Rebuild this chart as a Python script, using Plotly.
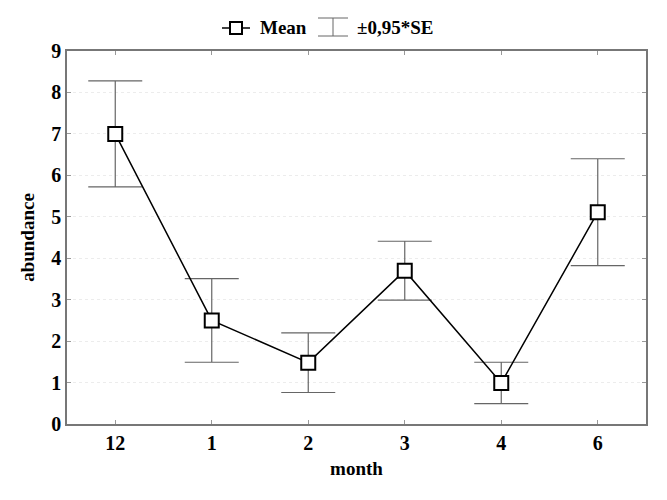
import plotly.graph_objects as go

months = ["12", "1", "2", "3", "4", "6"]
mean = [7.0, 2.5, 1.48, 3.7, 0.99, 5.11]
se95 = [1.28, 1.01, 0.72, 0.71, 0.5, 1.29]

font_serif = "Liberation Serif, Times New Roman, serif"

fig = go.Figure()
fig.add_trace(go.Scatter(
    x=months, y=mean, mode="lines+markers", name="Mean",
    line=dict(color="black", width=1.5),
    marker=dict(symbol="square", size=14, color="white",
                line=dict(color="black", width=2)),
    error_y=dict(type="data", array=se95, visible=True,
                 color="#666666", thickness=1.2, width=27),
    showlegend=False,
))

# legend drawn by hand (error bar icon is not available in plotly legends)
W, H = 579, 373
ly = 1 + 23/H
shapes = [
    dict(type="line", xref="paper", yref="paper", x0=(222 - 67)/W, x1=(250 - 67)/W,
         y0=ly, y1=ly, line=dict(color="black", width=1.5)),
    dict(type="rect", xref="paper", yref="paper",
         x0=(230 - 67)/W, x1=(242 - 67)/W, y0=ly - 6/H, y1=ly + 6/H,
         line=dict(color="black", width=2), fillcolor="white"),
    dict(type="line", xref="paper", yref="paper", x0=(318 - 67)/W, x1=(348 - 67)/W,
         y0=ly + 10/H, y1=ly + 10/H, line=dict(color="#666666", width=1)),
    dict(type="line", xref="paper", yref="paper", x0=(318 - 67)/W, x1=(348 - 67)/W,
         y0=ly - 8/H, y1=ly - 8/H, line=dict(color="#666666", width=1)),
    dict(type="line", xref="paper", yref="paper", x0=(333 - 67)/W, x1=(333 - 67)/W,
         y0=ly - 8/H, y1=ly + 10/H, line=dict(color="#666666", width=1)),
]
annotations = [
    dict(text="<b>Mean</b>", xref="paper", yref="paper", x=(258 - 67)/W, y=ly,
         xanchor="left", yanchor="middle", showarrow=False,
         font=dict(family=font_serif, size=19, color="black")),
    dict(text="<b>±0,95*SE</b>", xref="paper", yref="paper", x=(355 - 67)/W, y=ly,
         xanchor="left", yanchor="middle", showarrow=False,
         font=dict(family=font_serif, size=19, color="black")),
]

fig.update_layout(
    width=667, height=500,
    margin=dict(l=67, r=21, t=51, b=76),
    plot_bgcolor="white", paper_bgcolor="white",
    font=dict(family=font_serif, size=20, color="black"),
    shapes=shapes, annotations=annotations,
    xaxis=dict(
        type="category", range=[-0.5, 5.5], automargin=False,
        title=dict(text="<b>month</b>", font=dict(size=19), standoff=9),
        tickprefix="<b>", ticksuffix="</b>",
        showline=True, linecolor="#777777", linewidth=1.5, mirror="ticks",
        ticks="inside", ticklen=4, tickcolor="#999999",
        showgrid=False, zeroline=False,
    ),
    yaxis=dict(
        range=[0, 9], dtick=1, automargin=False,
        title=dict(text="<b>abundance</b>", font=dict(size=19), standoff=12),
        tickprefix="<b>", ticksuffix="</b>",
        showline=True, linecolor="#777777", linewidth=1.5, mirror="ticks",
        ticks="inside", ticklen=4, tickcolor="#999999",
        showgrid=True, gridcolor="#ececec", griddash="dot", gridwidth=1,
        zeroline=False,
    ),
)

fig.write_html("out.html", config={"displayModeBar": False},
               post_script="document.body.style.margin='0';")
